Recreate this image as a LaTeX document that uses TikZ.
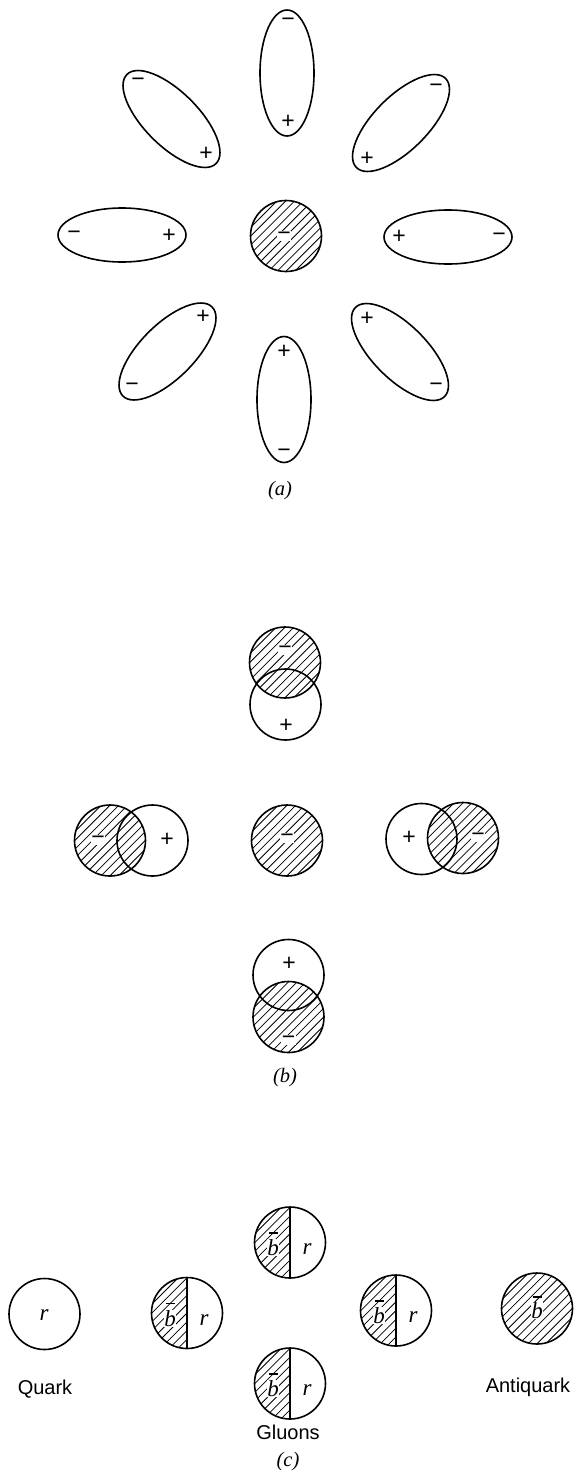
\documentclass[tikz,border=0pt]{standalone}
\usepackage{fontspec}
\newfontfamily\labfont{Liberation Sans}
\newfontfamily\serfont{Liberation Serif}
\tikzset{
  outline/.style={line width=1.6pt},
  hatchline/.style={line width=0.8pt},
  barline/.style={line width=1.2pt},
  sign/.style={font=\labfont\fontsize{23}{26}\selectfont, inner sep=0.5pt},
  hsign/.style={sign, fill=white},
  ital/.style={font=\serfont\itshape\fontsize{20.5}{24}\selectfont, inner sep=0.5pt},
  gital/.style={font=\serfont\itshape\fontsize{23}{26}\selectfont, inner sep=0.5pt, anchor=base},
  hgital/.style={gital, fill=white},
  sanslab/.style={font=\labfont\fontsize{20}{24}\selectfont, inner sep=0pt}
}
\newcommand\hlines[2]{\foreach \k in {-10,...,10}{\draw[hatchline] ({#1+\k*8.8-60},{#2+60}) -- ++(120,-120);}}
\newcommand\hcirc[3]{\begin{scope}\clip (#1,#2) circle (#3); \hlines{#1}{#2}\end{scope}}
\newcommand\hhalf[3]{\begin{scope}\clip (#1,#2) circle (#3); \clip ({#1-40},{#2-40}) rectangle (#1,{#2+40}); \hlines{#1}{#2}\end{scope}}
\begin{document}
\begin{tikzpicture}[x=1pt,y=-1pt]
\useasboundingbox (0,0) rectangle (579,1478);
% ---------------- (a)
\hcirc{286}{236}{35.5}
\draw[outline] (286,236) circle (35.5);
\node[hsign] (ac) at (284,236) {−};
% vertical ellipses
\draw[outline] (287,73) ellipse [x radius=27, y radius=63];
\node[sign] (atm) at (288,22) {−};
\node[sign] (atp) at (288,122) {+};
\draw[outline] (284,399.5) ellipse [x radius=27, y radius=63];
\node[sign] (abp) at (284,352) {+};
\node[sign] (abm) at (284,453) {−};
% horizontal ellipses
\draw[outline] (122,235) ellipse [x radius=64, y radius=27];
\node[sign] (alm) at (74,235) {−};
\node[sign] (alp) at (169,236) {+};
\draw[outline] (448,237) ellipse [x radius=64, y radius=27];
\node[sign] (arp) at (399,237) {+};
\node[sign] (arm) at (499,237) {−};
% diagonal ellipses
\draw[outline, rotate around={-45:(171.5,119)}] (171.5,119) ellipse [x radius=63, y radius=27];
\node[sign] (aulm) at (138,82) {−};
\node[sign] (aulp) at (206,154) {+};
\draw[outline, rotate around={45:(401,123)}] (401,123) ellipse [x radius=63, y radius=27];
\node[sign] (aurm) at (436,88) {−};
\node[sign] (aurp) at (367,159) {+};
\draw[outline, rotate around={45:(167.5,351.5)}] (167.5,351.5) ellipse [x radius=63, y radius=27];
\node[sign] (allp) at (203,317) {+};
\node[sign] (allm) at (132,387) {−};
\draw[outline, rotate around={-45:(400,352)}] (400,352) ellipse [x radius=63, y radius=27];
\node[sign] (alrp) at (367,319) {+};
\node[sign] (alrm) at (436,387) {−};
\node[ital] (la) at (280,491) {(a)};
% ---------------- (b)
% top pair
\hcirc{285}{662.5}{35.5}
\draw[outline] (285,662.5) circle (35.5);
\draw[outline] (285.5,704.5) circle (35.5);
\node[hsign] (btm) at (285,650) {−};
\node[sign] (btp) at (286,726) {+};
% left pair
\hcirc{110}{840.5}{35.5}
\draw[outline] (110,840.5) circle (35.5);
\draw[outline] (152.5,840.5) circle (35.5);
\node[hsign] (blm) at (98,840) {−};
\node[sign] (blp) at (167,840) {+};
% center
\hcirc{287}{840.5}{35.5}
\draw[outline] (287,840.5) circle (35.5);
\node[hsign] (bcm) at (287,838) {−};
% right pair
\hcirc{463}{838}{35.5}
\draw[outline] (463,838) circle (35.5);
\draw[outline] (421.5,839) circle (35.5);
\node[sign] (brp) at (409,838) {+};
\node[hsign] (brm) at (478,837) {−};
% bottom pair
\hcirc{288.5}{1017}{35.5}
\draw[outline] (288.5,1017) circle (35.5);
\draw[outline] (288.5,975) circle (35.5);
\node[sign] (bbp) at (289,964) {+};
\node[hsign] (bbm) at (288.5,1040) {−};
\node[ital] (lb) at (285,1078) {(b)};
% ---------------- (c)
% quark
\draw[outline] (44.5,1314) circle (35.5);
\node[gital] (cq) at (44,1320) {r};
\node[sanslab] (lq) at (45,1389) {Quark};
% gluons
\foreach \nm/\cx/\cy in {gl/187/1313, gt/290/1242.5, gr/396/1310.5, gb/290/1383.5}{
  \hhalf{\cx}{\cy}{35.5}
  \draw[outline] (\cx,\cy) circle (35.5);
  \draw[outline] (\cx,{\cy-35.5}) -- (\cx,{\cy+35.5});
  \node[hgital] (\nm b) at ({\cx-17},{\cy+13}) {b};
  \draw[barline] ({\cx-21},{\cy-9.5}) -- ({\cx-12},{\cy-9.5});
  \node[gital] (\nm r) at ({\cx+17},{\cy+12}) {r};
}
\node[sanslab] (lg) at (288,1432) {Gluons};
% antiquark
\hcirc{537}{1308.5}{35.5}
\draw[outline] (537,1308.5) circle (35.5);
\node[hgital] (caq) at (537,1318) {b};
\draw[barline] (532.5,1297) -- (542,1297);
\node[sanslab] (laq) at (528,1387) {Antiquark};
\node[ital] (lc) at (288,1462) {(c)};
\end{tikzpicture}
\end{document}
